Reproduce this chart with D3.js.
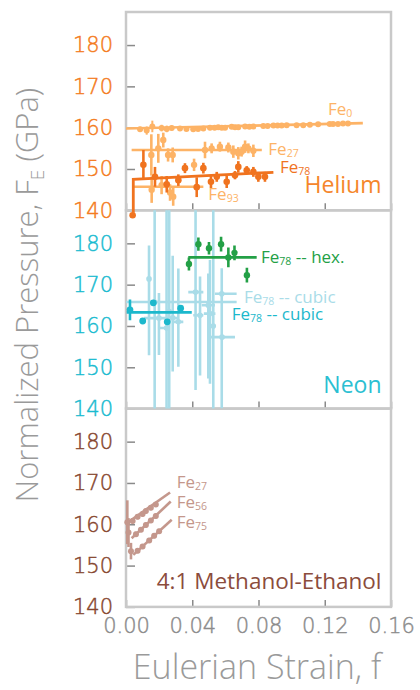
<!DOCTYPE html>
<html>
<head>
<meta charset="utf-8">
<script src="https://cdn.jsdelivr.net/npm/d3@7"></script>
<style>
  body { margin: 0; background: #fff; }
  svg { display: block; }
</style>
</head>
<body>
<script>
// ---- axis ticks ----
const strainTicks = [0, 0.04, 0.08, 0.12, 0.16];
const pressureTicks = [140, 150, 160, 170, 180];
const pressureDomain = [140, 188];

// ---- Helium medium: [strain, pressure, error] ----
const heliumFe0 = [
  [0.0085, 159.6, 0.6], [0.0125, 159.3, 1.0], [0.0159, 160.3, 1.4], [0.0215, 159.9, 0.8],
  [0.0246, 159.7, 0.8], [0.0276, 159.9, 0.6], [0.0326, 159.8, 0.6], [0.0365, 159.7, 0.5],
  [0.0406, 159.6, 0.6], [0.0435, 159.7, 0.5], [0.0467, 159.8, 0.6], [0.0507, 160.0, 0.6],
  [0.0535, 160.0, 0.5], [0.0557, 160.1, 0.5], [0.0578, 160.0, 0.5], [0.0598, 160.0, 0.5],
  [0.0638, 160.2, 0.5], [0.0658, 160.1, 0.5], [0.0678, 160.1, 0.5], [0.0719, 160.3, 0.5],
  [0.0745, 160.2, 0.5], [0.0769, 160.3, 0.5], [0.0829, 160.4, 0.5], [0.0855, 160.4, 0.5],
  [0.0890, 160.5, 0.5], [0.0915, 160.5, 0.5], [0.0940, 160.5, 0.5], [0.0970, 160.6, 0.5],
  [0.1030, 160.6, 0.5], [0.1070, 160.6, 0.5], [0.1110, 160.7, 0.5], [0.1160, 160.8, 0.5],
  [0.1230, 160.9, 0.5], [0.1250, 160.9, 0.5], [0.1280, 160.9, 0.5], [0.1310, 161.0, 0.5],
  [0.1340, 161.0, 0.5]
];
const heliumFe0Fit = [[0, 159.8], [0.143, 161.1]];

const heliumFe27 = [
  [0.0153, 153.4, 5.0], [0.0195, 155.0, 3.5], [0.0225, 157.0, 1.8], [0.0254, 153.4, 1.6],
  [0.0282, 153.4, 1.8], [0.0411, 151.0, 1.5], [0.0477, 154.6, 2.0], [0.0517, 155.0, 1.2],
  [0.0567, 155.4, 1.2], [0.0618, 155.2, 1.2], [0.0648, 154.2, 1.5], [0.0678, 153.8, 1.5],
  [0.0698, 154.2, 1.2], [0.0719, 155.4, 1.5], [0.0739, 155.0, 1.2], [0.0769, 154.4, 1.5]
];
const heliumFe27Fit = [[0.0034, 154.6], [0.082, 154.6]];

const heliumFe78 = [
  [0.0040, 138.8, 0], [0.0105, 151.0, 3.6], [0.0175, 148.1, 2.4], [0.0246, 146.3, 2.0],
  [0.0316, 147.3, 1.4], [0.0356, 150.2, 1.2], [0.0427, 145.6, 2.4], [0.0467, 150.2, 1.3],
  [0.0513, 146.9, 1.5], [0.0548, 148.1, 1.2], [0.0608, 146.9, 1.5], [0.0658, 148.5, 1.0],
  [0.0678, 150.5, 1.4], [0.0729, 149.7, 1.0], [0.0769, 149.3, 1.2], [0.0799, 148.1, 1.2],
  [0.0839, 148.1, 1.2]
];
const heliumFe78Fit = [[0.0044, 139.4], [0.0044, 147.5], [0.089, 149.2]];

const heliumFe93 = [
  [0.0155, 145.0, 3.2], [0.0215, 146.1, 2.2], [0.0266, 144.3, 2.0], [0.0285, 143.3, 2.2]
];
const heliumFe93Fit = [[0.0044, 145.7], [0.0467, 145.7]];

// ---- Neon medium ----
const neonCubic = [
  [0.0024, 163.9, 2.5], [0.0101, 161.2, 0], [0.0165, 165.6, 0], [0.0249, 161.0, 0], [0.0330, 164.3, 0]
];
const neonCubicFit = [[0.0004, 163.3], [0.0397, 163.3]];

const neonHex = [
  [0.0380, 175.0, 1.6], [0.0437, 179.8, 1.6], [0.0501, 178.8, 1.5], [0.0574, 179.8, 1.8],
  [0.0618, 176.6, 2.4], [0.0655, 177.7, 1.8], [0.0730, 172.3, 1.8]
];
const neonHexFit = [[0.0376, 176.6], [0.0789, 176.6]];

// [strain, pressure, pressure low, pressure high, strain low, strain high]
const neonCubicWide = [
  [0.0139, 171.4, 152.9, 179.5, null, null],
  [0.0173, 165.8, 130, 200, 0.0000, 0.0668],
  [0.0199, 161.9, 153.0, 168.0, 0.0109, 0.0310],
  [0.0245, 159.5, 130, 200, 0.0193, 0.0262],
  [0.0261, 163.5, 130, 200, null, null],
  [0.0282, 162.0, 149.0, 177.0, null, null],
  [0.0316, 161.0, 150.1, 173.9, 0.0290, 0.0346],
  [0.0420, 168.2, 144.5, 195, 0.0376, 0.0467],
  [0.0447, 162.6, 148.0, 172.0, 0.0406, 0.0467],
  [0.0497, 165.0, 147.3, 172.7, 0.0457, 0.0537],
  [0.0507, 163.0, 146.0, 176.0, 0.0470, 0.0540],
  [0.0527, 160.0, 130, 200, null, null],
  [0.0578, 167.8, 140.0, 174.0, 0.0537, 0.0668],
  [0.0580, 157.3, 157.3, 157.3, 0.0507, 0.0658]
];

// ---- 4:1 Methanol-Ethanol medium ----
const meFe27 = [
  [0.0008, 160.5, 5.3], [0.0040, 160.8, 0.6], [0.0070, 161.8, 0.6], [0.0100, 162.5, 0.6],
  [0.0120, 163.2, 0.6], [0.0150, 164.0, 0.6], [0.0180, 164.8, 0.6]
];
const meFe27Fit = [[0.0004, 160.25], [0.0266, 167.7]];
const meFe56 = [
  [0.0015, 158.0, 3.5], [0.0060, 157.6, 0.6], [0.0090, 158.7, 0.6], [0.0120, 159.8, 0.6],
  [0.0150, 160.9, 0.6], [0.0180, 162.0, 0.6]
];
const meFe56Fit = [[0.0034, 156.6], [0.027, 165.5]];
const meFe75 = [
  [0.0030, 153.5, 2.0], [0.0070, 153.6, 0.6], [0.0100, 154.6, 0.6], [0.0140, 156.1, 0.6],
  [0.0170, 157.2, 0.6], [0.0200, 158.3, 0.6]
];
const meFe75Fit = [[0.0044, 152.6], [0.0276, 161.1]];

// ---- layout ----
const W = 420, H = 690;
const left = 126, right = 391;
const panelTop = 12, panelH = 198.3;

const svg = d3.select("body").append("svg").attr("width", W).attr("height", H);
const x = d3.scaleLinear().domain([0, 0.16]).range([left, right]);

const numFont = "'DejaVu Sans', sans-serif";
const textFont = "'Open Sans', 'Noto Sans', sans-serif";

const panels = [
  { tickColor: "#f47b20" },
  { tickColor: "#19bbd0" },
  { tickColor: "#87472f" }
];
panels.forEach((p, i) => {
  p.top = panelTop + i * panelH;
  p.y = d3.scaleLinear().domain(pressureDomain).range([p.top + panelH, p.top]);
});

const lineGen = (y) => d3.line().x(d => x(d[0])).y(d => y(d[1]));

function fitLine(g, y, pts, color, w) {
  g.append("path").attr("d", lineGen(y)(pts))
    .attr("fill", "none").attr("stroke", color).attr("stroke-width", w || 2.6);
}

function errPoints(g, y, pts, color, r, w) {
  const s = g.append("g");
  s.selectAll("line").data(pts.filter(d => d[2] > 0)).join("line")
    .attr("x1", d => x(d[0])).attr("x2", d => x(d[0]))
    .attr("y1", d => y(d[1] - d[2])).attr("y2", d => y(d[1] + d[2]))
    .attr("stroke", color).attr("stroke-width", w || 2.4);
  s.selectAll("circle").data(pts).join("circle")
    .attr("cx", d => x(d[0])).attr("cy", d => y(d[1])).attr("r", r || 3)
    .attr("fill", color);
}

// "Fe" with a subscript composition, optionally followed by more text
function label(g, px, py, base, sub, rest, color, size) {
  const fs = size || 17;
  const t = g.append("text").attr("x", px).attr("y", py)
    .attr("fill", color).attr("font-family", textFont).attr("font-size", fs);
  t.append("tspan").text(base);
  t.append("tspan").attr("font-size", fs * 0.62).attr("dy", 2).text(sub);
  if (rest) t.append("tspan").attr("dy", -2).text(rest);
  return t;
}

// ---- frames, axes ----
panels.forEach((p, i) => {
  const g = svg.append("g");
  const ax = g.append("g").attr("transform", `translate(${left},0)`)
    .call(d3.axisLeft(p.y).tickValues(pressureTicks).tickSizeInner(-9).tickSizeOuter(0).tickPadding(13));
  ax.select(".domain").remove();
  ax.selectAll(".tick line").attr("stroke", "#8a8a8a").attr("stroke-width", 1.5);
  ax.selectAll(".tick text").attr("fill", p.tickColor)
    .attr("stroke", p.tickColor).attr("stroke-width", 0.45)
    .attr("font-family", numFont).attr("font-size", 21).attr("font-weight", 200);

  const bx = g.append("g").attr("transform", `translate(0,${p.top + panelH})`)
    .call(d3.axisBottom(x).tickValues(strainTicks).tickSizeInner(-7).tickSizeOuter(0).tickPadding(11)
      .tickFormat(d3.format(".2f")));
  bx.select(".domain").remove();
  bx.selectAll(".tick line").attr("stroke", "#8a8a8a").attr("stroke-width", 1.5);
  bx.selectAll(".tick text").attr("fill", "#8c8c8c")
    .attr("stroke", "#8c8c8c").attr("stroke-width", 0.45)
    .attr("font-family", numFont).attr("font-size", 21).attr("font-weight", 200)
    .style("display", i === 2 ? null : "none");
});

panels.forEach(p => {
  svg.append("rect").attr("x", left).attr("y", p.top)
    .attr("width", right - left).attr("height", panelH)
    .attr("fill", "none").attr("stroke", "#c9c9c9").attr("stroke-width", 2.5);
});

// ---- Helium panel ----
{
  const y = panels[0].y, g = svg.append("g");
  const light = "#fdb366", dark = "#f0731f";
  fitLine(g, y, heliumFe0Fit, light);
  fitLine(g, y, heliumFe27Fit, light);
  fitLine(g, y, heliumFe93Fit, light);
  errPoints(g, y, heliumFe0, light, 3, 2);
  errPoints(g, y, heliumFe27, light, 3.2, 2.6);
  errPoints(g, y, heliumFe93, light, 3.2, 2.6);
  fitLine(g, y, heliumFe78Fit, dark, 2.8);
  errPoints(g, y, heliumFe78, dark, 3.3, 2.6);

  label(g, 328, 115, "Fe", "0", null, light);
  label(g, 268.3, 155, "Fe", "27", null, light);
  label(g, 280, 173.3, "Fe", "78", null, dark);
  label(g, 208.3, 200, "Fe", "93", null, light);
  g.append("text").attr("x", 381.5).attr("y", 193.3).attr("text-anchor", "end")
    .attr("font-family", textFont).attr("font-size", 23).attr("fill", "#f5862b").text("Helium");
}

// ---- Neon panel ----
{
  const p = panels[1], y = p.y;
  svg.append("clipPath").attr("id", "neonClip").append("rect")
    .attr("x", left).attr("y", p.top).attr("width", right - left).attr("height", panelH);
  const g = svg.append("g").attr("clip-path", "url(#neonClip)");
  const pale = "#a9dce8", cyan = "#1cb8cc", green = "#23a046";

  const wide = g.append("g");
  wide.selectAll("line.v").data(neonCubicWide.filter(d => d[2] !== d[3])).join("line")
    .attr("class", "v")
    .attr("x1", d => x(d[0])).attr("x2", d => x(d[0]))
    .attr("y1", d => y(d[2])).attr("y2", d => y(d[3]))
    .attr("stroke", pale).attr("stroke-width", 2.6);
  wide.selectAll("line.h").data(neonCubicWide.filter(d => d[4] !== null)).join("line")
    .attr("class", "h")
    .attr("x1", d => x(d[4])).attr("x2", d => x(d[5]))
    .attr("y1", d => y(d[1])).attr("y2", d => y(d[1]))
    .attr("stroke", pale).attr("stroke-width", 2.6);
  wide.selectAll("circle").data(neonCubicWide).join("circle")
    .attr("cx", d => x(d[0])).attr("cy", d => y(d[1])).attr("r", 2.8).attr("fill", pale);

  fitLine(g, y, neonCubicFit, cyan, 2.8);
  errPoints(g, y, neonCubic, cyan, 3.4, 2.6);
  fitLine(g, y, neonHexFit, green, 2.8);
  errPoints(g, y, neonHex, green, 3.2, 2.6);

  const t = svg.append("g");
  label(t, 261, 263.3, "Fe", "78", " -- hex.", green);
  label(t, 244, 303, "Fe", "78", " -- cubic", pale);
  label(t, 231.7, 320, "Fe", "78", " -- cubic", cyan);
  t.append("text").attr("x", 381.5).attr("y", 393.3).attr("text-anchor", "end")
    .attr("font-family", textFont).attr("font-size", 23).attr("fill", "#2bbfd2").text("Neon");
}

// ---- Methanol-Ethanol panel ----
{
  const y = panels[2].y, g = svg.append("g");
  const rose = "#c4978c";
  [[meFe27, meFe27Fit], [meFe56, meFe56Fit], [meFe75, meFe75Fit]].forEach(([pts, fit]) => {
    fitLine(g, y, fit, rose, 2.6);
    errPoints(g, y, pts, rose, 3, 2.6);
  });
  label(g, 176.7, 487.7, "Fe", "27", null, rose);
  label(g, 176.7, 507.7, "Fe", "56", null, rose);
  label(g, 176.7, 528.3, "Fe", "75", null, rose);
  g.append("text").attr("x", 381.5).attr("y", 589).attr("text-anchor", "end")
    .attr("font-family", textFont).attr("font-size", 22.5).attr("fill", "#8b4c3c").text("4:1 Methanol-Ethanol");
}

// ---- axis titles ----
const yTitle = svg.append("text").attr("transform", "rotate(-90)")
  .attr("x", -295).attr("y", 38).attr("text-anchor", "middle")
  .attr("font-family", textFont).attr("font-size", 31).attr("font-weight", 300).attr("fill", "#9a9a9a");
yTitle.append("tspan").text("Normalized Pressure, F");
yTitle.append("tspan").attr("font-size", 19).attr("dy", 6).text("E");
yTitle.append("tspan").attr("dy", -6).text(" (GPa)");

svg.append("text").attr("x", 257).attr("y", 679).attr("text-anchor", "middle")
  .attr("font-family", textFont).attr("font-size", 34).attr("font-weight", 300).attr("fill", "#9a9a9a")
  .text("Eulerian Strain, f");
</script>
</body>
</html>
